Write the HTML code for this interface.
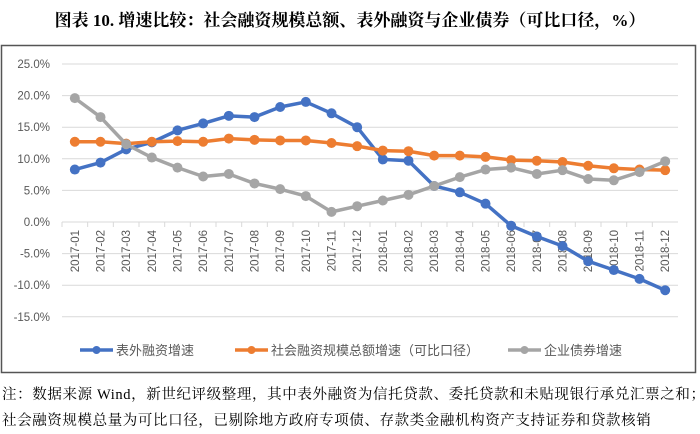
<!DOCTYPE html>
<html><head><meta charset="utf-8"><style>
body{margin:0;width:700px;height:434px;background:#fff;overflow:hidden;position:relative;font-family:"Liberation Serif","Noto Serif CJK SC",serif}
.t{position:absolute;white-space:nowrap}
</style></head><body>
<div class="t" style="left:0;width:700px;text-align:center;top:6px;font-size:17px;font-weight:bold;color:#000">图表 10. 增速比较：社会融资规模总额、表外融资与企业债券（可比口径，%）</div>
<svg id="c" width="700" height="380" style="position:absolute;left:0;top:0" font-family="Liberation Sans, Noto Sans CJK SC, sans-serif"></svg>
<div class="t" style="left:2px;top:383px;font-size:14.5px;letter-spacing:0.62px">注：数据来源 Wind，新世纪评级整理，其中表外融资为信托贷款、委托贷款和未贴现银行承兑汇票之和；</div>
<div class="t" style="left:2px;top:409px;font-size:14.5px;letter-spacing:0.6px">社会融资规模总量为可比口径，已剔除地方政府专项债、存款类金融机构资产支持证券和贷款核销</div>
<script>
const categories=["2017-01","2017-02","2017-03","2017-04","2017-05","2017-06","2017-07","2017-08","2017-09","2017-10","2017-11","2017-12","2018-01","2018-02","2018-03","2018-04","2018-05","2018-06","2018-07","2018-08","2018-09","2018-10","2018-11","2018-12"];
const offBalance=[8.3,9.4,11.5,12.6,14.5,15.6,16.8,16.6,18.2,19.0,17.2,15.0,9.9,9.7,5.7,4.7,2.9,-0.6,-2.3,-3.8,-6.2,-7.6,-9.0,-10.8];
const tsf=[12.7,12.7,12.4,12.7,12.8,12.7,13.2,13.0,12.9,12.9,12.5,12.0,11.3,11.2,10.5,10.5,10.3,9.8,9.7,9.5,8.9,8.5,8.3,8.2];
const bonds=[19.6,16.6,12.3,10.2,8.6,7.2,7.6,6.1,5.2,4.1,1.6,2.5,3.4,4.3,5.7,7.1,8.3,8.6,7.6,8.2,6.8,6.6,7.9,9.6];
const yTicks=[25,20,15,10,5,0,-5,-10,-15];
const seriesNames=["表外融资增速","社会融资规模总额增速（可比口径）","企业债券增速"];
const colors=["#4472C4","#ED7D31","#A5A5A5"];
const svg=document.getElementById('c');const NS="http://www.w3.org/2000/svg";
function mk(t,a,p){const e=document.createElementNS(NS,t);for(const k in a)e.setAttribute(k,a[k]);(p||svg).appendChild(e);return e;}
const x0=62,x1=678,step=(x1-x0)/categories.length;
const X=i=>x0+step*(i+0.5);
const Y=v=>222-v*(158/25);
let f=mk('rect',{x:1.5,y:45.5,width:694,height:327,fill:'none',stroke:'#555','stroke-width':1.5});

yTicks.forEach(v=>{const g=mk('line',{x1:x0,x2:x1,y1:Y(v),y2:Y(v),stroke:'#d9d9d9','stroke-width':1});

const t=mk('text',{x:50,y:Y(v)+4,'text-anchor':'end','font-size':11.5,fill:'#595959'});t.textContent=v.toFixed(1)+'%';
});
categories.forEach((c,i)=>{const tk=mk('line',{x1:x0+step*i,x2:x0+step*i,y1:222,y2:227,stroke:'#d9d9d9'});

const t=mk('text',{x:0,y:0,'text-anchor':'end','font-size':11.5,fill:'#595959',transform:`translate(${X(i)+4},230) rotate(-90)`});t.textContent=c;
});
[offBalance,tsf,bonds].forEach((s,k)=>{
const p=mk('polyline',{points:s.map((v,i)=>X(i)+','+Y(v)).join(' '),fill:'none',stroke:colors[k],'stroke-width':3.5,'stroke-linejoin':'round'});

s.forEach((v,i)=>{const d=mk('circle',{cx:X(i),cy:Y(v),r:5,fill:colors[k]});
});});
const lx=[80,235,508];
seriesNames.forEach((n,k)=>{const l=mk('line',{x1:lx[k],x2:lx[k]+33,y1:350,y2:350,stroke:colors[k],'stroke-width':3.5});

const c=mk('circle',{cx:lx[k]+16.5,cy:350,r:4,fill:colors[k]});
const t=mk('text',{x:lx[k]+36,y:355,'font-size':13,fill:'#595959'});t.textContent=n;
});
</script>
</body></html>
